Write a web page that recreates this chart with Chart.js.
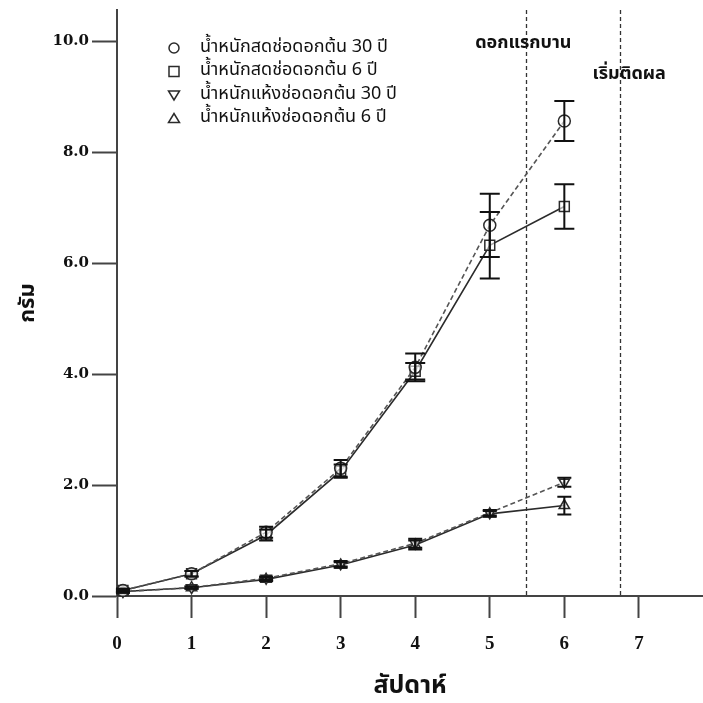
<!DOCTYPE html>
<html>
<head>
<meta charset="utf-8">
<script src="https://cdn.jsdelivr.net/npm/chart.js@4.4.1/dist/chart.umd.min.js"></script>
<style>
  html, body { margin: 0; padding: 0; background: #fff; }
  #c { display: block; }
</style>
</head>
<body>
<canvas id="c" width="703" height="703"></canvas>
<script>
// data (grams per inflorescence, by week)
const weeks = [0.08, 1, 2, 3, 4, 5, 6];
const seriesLabels = [
  'น้ำหนักสดช่อดอกต้น 30 ปี',
  'น้ำหนักสดช่อดอกต้น 6 ปี',
  'น้ำหนักแห้งช่อดอกต้น 30 ปี',
  'น้ำหนักแห้งช่อดอกต้น 6 ปี',
];
const fresh30 = [0.10, 0.40, 1.15, 2.30, 4.12, 6.68, 8.56];
const fresh30Err = [0.03, 0.05, 0.10, 0.15, 0.25, 0.57, 0.36];
const fresh6 = [0.10, 0.40, 1.10, 2.25, 4.05, 6.32, 7.02];
const fresh6Err = [0.03, 0.05, 0.10, 0.12, 0.15, 0.60, 0.40];
const dry30 = [0.08, 0.15, 0.32, 0.58, 0.95, 1.50, 2.05];
const dry30Err = [0.02, 0.02, 0.03, 0.05, 0.08, 0.05, 0.08];
const dry6 = [0.08, 0.15, 0.30, 0.56, 0.92, 1.48, 1.63];
const dry6Err = [0.02, 0.02, 0.03, 0.05, 0.08, 0.05, 0.16];
const yTicks = [0, 2, 4, 6, 8, 10];
const xTicks = [0, 1, 2, 3, 4, 5, 6, 7];
const events = [
  { week: 5.49, text: 'ดอกแรกบาน' },
  { week: 6.75, text: 'เริ่มติดผล' },
];

const INK = '#2b2b2b';
const THAI = '"Noto Sans Thai", "Noto Sans", "DejaVu Sans", sans-serif';

function pts(vals) { return vals.map((v, i) => ({ x: weeks[i], y: v })); }

function series(label, vals, err, style, dashed) {
  return {
    label, data: pts(vals), err,
    borderColor: dashed ? '#555' : INK, borderWidth: 1.6,
    borderDash: dashed ? [5, 3] : [],
    pointStyle: style.shape, rotation: style.rot || 0, pointRadius: style.r,
    pointBackgroundColor: 'rgba(255,255,255,0.6)', pointBorderColor: INK, pointBorderWidth: 1.5,
    tension: 0, clip: false,
  };
}

const errorBars = {
  id: 'errorBars',
  afterDatasetsDraw(chart) {
    const { ctx, scales: { x, y } } = chart;
    ctx.save();
    ctx.strokeStyle = '#111';
    ctx.lineWidth = 2;
    chart.data.datasets.forEach((ds) => {
      ds.data.forEach((p, i) => {
        const e = ds.err[i];
        const px = x.getPixelForValue(p.x);
        const t = y.getPixelForValue(p.y + e), b = y.getPixelForValue(p.y - e);
        const w = p.y > 3 ? 10 : 7;
        ctx.beginPath();
        ctx.moveTo(px, t); ctx.lineTo(px, b);
        ctx.moveTo(px - w, t); ctx.lineTo(px + w, t);
        ctx.moveTo(px - w, b); ctx.lineTo(px + w, b);
        ctx.stroke();
      });
    });
    ctx.restore();
  },
};

const markers = {
  id: 'markers',
  beforeDatasetsDraw(chart) {
    const { ctx, chartArea, scales: { x } } = chart;
    ctx.save();
    ctx.strokeStyle = '#333';
    ctx.lineWidth = 1.3;
    ctx.setLineDash([4, 3]);
    events.forEach((ev) => {
      const px = Math.round(x.getPixelForValue(ev.week)) + 0.5;
      ctx.beginPath();
      ctx.moveTo(px, chartArea.top);
      ctx.lineTo(px, chartArea.bottom);
      ctx.stroke();
    });
    ctx.setLineDash([]);
    ctx.fillStyle = '#111';
    ctx.font = 'bold 18px ' + THAI;
    ctx.textAlign = 'center';
    ctx.textBaseline = 'middle';
    ctx.fillText(events[0].text, x.getPixelForValue(events[0].week) - 3, 44);
    ctx.fillText(events[1].text, x.getPixelForValue(events[1].week) + 9, 75);
    ctx.restore();
  },
};

const legendBox = {
  id: 'legendBox',
  afterDraw(chart) {
    const { ctx } = chart;
    ctx.save();
    ctx.font = '18px ' + THAI;
    ctx.textBaseline = 'middle';
    ctx.fillStyle = '#111';
    ctx.strokeStyle = INK;
    ctx.lineWidth = 1.5;
    chart.data.datasets.forEach((ds, i) => {
      const cx = 174, cy = 48 + i * 23.5;
      ctx.beginPath();
      if (ds.pointStyle === 'circle') {
        ctx.arc(cx, cy, 5, 0, Math.PI * 2);
      } else if (ds.pointStyle === 'rect') {
        ctx.rect(cx - 5, cy - 5, 10, 10);
      } else if (ds.rotation) {
        ctx.moveTo(cx - 5.5, cy - 4); ctx.lineTo(cx + 5.5, cy - 4); ctx.lineTo(cx, cy + 5); ctx.closePath();
      } else {
        ctx.moveTo(cx - 5.5, cy + 4); ctx.lineTo(cx + 5.5, cy + 4); ctx.lineTo(cx, cy - 5); ctx.closePath();
      }
      ctx.stroke();
      ctx.fillText(ds.label, 200, cy);
    });
    ctx.restore();
  },
};

new Chart(document.getElementById('c'), {
  type: 'line',
  data: {
    datasets: [
      series(seriesLabels[0], fresh30, fresh30Err, { shape: 'circle', r: 6 }, true),
      series(seriesLabels[1], fresh6, fresh6Err, { shape: 'rect', r: 7 }, false),
      series(seriesLabels[2], dry30, dry30Err, { shape: 'triangle', r: 6, rot: 180 }, true),
      series(seriesLabels[3], dry6, dry6Err, { shape: 'triangle', r: 6 }, false),
    ],
  },
  options: {
    responsive: false,
    animation: false,
    layout: { autoPadding: false, padding: { top: 10, right: 0, left: 0, bottom: 0 } },
    plugins: { legend: { display: false }, tooltip: { enabled: false } },
    scales: {
      x: {
        type: 'linear', min: 0, max: 7.86,
        afterBuildTicks(s) { s.ticks = xTicks.map((v) => ({ value: v })); },
        afterFit(s) { s.height = 107; s.paddingLeft = 0; s.paddingRight = 0; },
        grid: { drawOnChartArea: false, drawTicks: true, tickLength: 22, tickWidth: 2, color: '#444' },
        border: { color: '#444', width: 2 },
        ticks: { color: '#111', padding: 15, font: { family: '"Liberation Serif", serif', weight: 'bold', size: 19 } },
        title: { display: true, text: 'สัปดาห์', color: '#111', padding: { top: 0, bottom: 0 }, font: { family: THAI, size: 25, weight: 'bold' } },
      },
      y: {
        type: 'linear', min: 0, max: 10.56,
        afterBuildTicks(s) { s.ticks = yTicks.map((v) => ({ value: v })); },
        afterFit(s) { s.width = 117; s.paddingTop = 0; s.paddingBottom = 0; },
        grid: { drawOnChartArea: false, drawTicks: true, tickLength: 25, tickWidth: 2, color: '#444' },
        border: { color: '#444', width: 2 },
        ticks: { color: '#111', padding: 3, callback: (v) => v.toFixed(1), font: { family: '"DejaVu Serif", serif', weight: 'bold', size: 15 } },
        title: { display: true, text: 'กรัม', color: '#111', padding: { top: 16, bottom: 0 }, font: { family: THAI, size: 22, weight: 'bold' } },
      },
    },
  },
  plugins: [markers, errorBars, legendBox],
});
</script>
</body>
</html>
